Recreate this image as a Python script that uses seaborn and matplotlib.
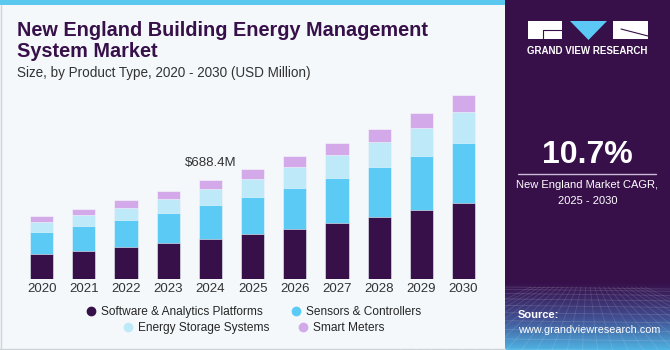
import numpy as np
import pandas as pd
import seaborn as sns
import matplotlib.pyplot as plt
from matplotlib.patches import Rectangle, Polygon
from matplotlib.lines import Line2D

# values (USD Million)
years = ["2020", "2021", "2022", "2023", "2024", "2025", "2026", "2027", "2028", "2029", "2030"]
software = [175.5, 196.0, 222.0, 249.6, 279.6, 314.0, 349.0, 388.0, 432.0, 478.0, 529.0]
sensors = [152.5, 171.0, 189.5, 210.0, 233.5, 256.5, 284.0, 314.0, 346.6, 379.0, 416.0]
storage = [69.3, 78.5, 85.5, 97.0, 113.0, 124.8, 143.0, 157.0, 173.0, 194.0, 217.0]
meters = [41.6, 44.0, 51.0, 57.8, 62.3, 67.0, 76.0, 85.5, 92.4, 104.0, 115.5]
segments = ["Software & Analytics Platforms", "Sensors & Controllers",
            "Energy Storage Systems", "Smart Meters"]
colors = ["#37104a", "#5bcaf5", "#bde9f9", "#d4a9ea"]
highlight_year = "2024"
cagr = "10.7%"

W, H = 670, 350
PURPLE = "#37104a"

sns.set_theme(style="white")
plt.rcParams["font.family"] = ["Liberation Sans", "DejaVu Sans"]

fig = plt.figure(figsize=(W / 100, H / 100), dpi=100)
fig.patch.set_facecolor("#f4f8fb")

# decorative layer in pixel coordinates
bg = fig.add_axes([0, 0, 1, 1], zorder=0)
bg.set_xlim(0, W)
bg.set_ylim(H, 0)
bg.axis("off")
bg.add_patch(Rectangle((0, 0), 505, 5, color="#5bc8f0", lw=0))
bg.plot([0.5, 0.5], [5, 348], color="#cfd4d8", lw=1)
bg.plot([0, 505], [348.5, 348.5], color="#cfd4d8", lw=1)
bg.add_patch(Rectangle((505, 0), W - 505, H, color=PURPLE, lw=0))

# gradient + grid texture at bottom of side panel
grad = np.linspace(0, 1, 100)[:, None]
cmap = sns.blend_palette([PURPLE, "#414f92", "#4fb3e3"], as_cmap=True)
bg.imshow(grad ** 1.1, extent=(505, W, 350, 282), cmap=cmap, aspect="auto", zorder=1)
for i in range(10):
    yy = 287 + (i / 9) ** 1.5 * 62
    bg.plot([505, W], [yy, yy + 2], color="white", alpha=0.14, lw=0.6, zorder=2)
for xx in np.linspace(400, 780, 26):
    bg.plot([587 + (xx - 587) * 0.3, xx], [287, 350], color="white", alpha=0.12, lw=0.6, zorder=2)

# logo
bg.add_patch(Rectangle((527.5, 21), 34, 18, color="white", lw=0, zorder=3))
bg.plot([543, 561.5], [30, 30], color=PURPLE, lw=0.8, zorder=4)
bg.plot([543, 543], [30, 39], color=PURPLE, lw=0.8, zorder=4)
bg.add_patch(Polygon([(570, 21), (607, 21), (588.5, 40)], color="#5bc8f5", lw=0, zorder=3))
bg.add_patch(Rectangle((613, 21), 35, 18, color="white", lw=0, zorder=3))
bg.plot([621, 648], [29, 36], color=PURPLE, lw=0.8, zorder=4)
bg.text(587.5, 51.5, "GRAND VIEW RESEARCH", color="white", fontsize=7.0, fontweight="bold",
        ha="center", va="center", zorder=4)

bg.text(587.5, 155, cagr, color="white", fontsize=23, fontweight="bold", ha="center", va="center")
bg.plot([518, 656], [173.5, 173.5], color="#c9bcd4", lw=1)
bg.text(587.5, 185, "New England Market CAGR,", color="white", fontsize=8, ha="center", va="center")
bg.text(587.5, 201, "2025 - 2030", color="white", fontsize=8, ha="center", va="center")
bg.text(518, 315, "Source:", color="white", fontsize=8, fontweight="bold", ha="left", va="center", zorder=4)
bg.text(518, 330, "www.grandviewresearch.com", color="white", fontsize=7.8, ha="left", va="center", zorder=4)

# titles
bg.text(17, 36, "New England Building Energy Management", color=PURPLE, fontsize=14.3,
        fontweight="bold", ha="left", va="baseline")
bg.text(17, 57, "System Market", color=PURPLE, fontsize=14.3, fontweight="bold",
        ha="left", va="baseline")
bg.text(17, 77, "Size, by Product Type, 2020 - 2030 (USD Million)", color="#333333",
        fontsize=9.75, ha="left", va="baseline")

# chart
df = pd.DataFrame({"year": years, segments[0]: software, segments[1]: sensors,
                   segments[2]: storage, segments[3]: meters})
cum = df[segments].cumsum(axis=1)

ax = fig.add_axes([20.6 / W, 70.7 / H, 464 / W, 189.3 / H], zorder=2)
ax.patch.set_alpha(0)
for seg, col in reversed(list(zip(segments, colors))):
    sns.barplot(x=df["year"], y=cum[seg], color=col, width=0.55, ax=ax,
                edgecolor="#f4f8fb", linewidth=0.4, saturation=1)

ax.set_xlim(-0.5, len(years) - 0.5)
ax.set_ylim(0, 1312)
ax.set_xlabel("")
ax.set_ylabel("")
ax.set_yticks([])
ax.tick_params(axis="x", length=0, pad=3, labelsize=9.5, labelcolor="#333333")
sns.despine(ax=ax, left=True, bottom=True)

i = years.index(highlight_year)
total = cum[segments[-1]].iloc[i]
ax.annotate(f"${total:.1f}M", (i, total), xytext=(0, 8), textcoords="offset points",
            ha="center", va="bottom", fontsize=9.5, color="#333333")

handles = [Line2D([], [], marker="o", ls="", color=c, markersize=6) for c in colors]
leg_kw = dict(loc="center", ncol=2, frameon=False, fontsize=8.6, handletextpad=0.25,
              columnspacing=2.2, handlelength=1.2, borderaxespad=0)
leg1 = ax.legend(handles[:2], segments[:2], bbox_to_anchor=(0.5, -0.173), **leg_kw)
ax.add_artist(leg1)
ax.legend(handles[2:], segments[2:], bbox_to_anchor=(0.5, -0.257), **leg_kw)

fig.savefig("out.png", dpi=100, facecolor=fig.get_facecolor())
